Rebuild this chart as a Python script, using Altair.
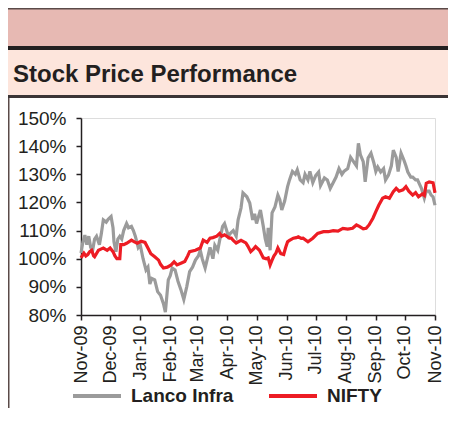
import altair as alt
import pandas as pd

# ---- data (day offset from 1-Nov-2009, index %) ----
lanco_days = [0, 2, 4, 6, 8, 10, 12, 14, 16, 19, 21, 23, 26, 28, 31, 33, 34, 36, 38, 40,
              42, 44, 47, 49, 52, 54, 56, 59, 61, 64, 67, 69, 71, 73, 76, 79, 82, 85, 87, 90,
              92, 94, 97, 100, 103, 106, 109, 112, 115, 118, 121, 123, 125, 128, 131, 133, 136, 138, 141, 143,
              146, 148, 152, 154, 157, 160, 162, 165, 167, 171, 174, 177, 179, 181, 185, 188, 190, 192, 193, 195,
              197, 200, 203, 205, 207, 210, 213, 215, 218, 221, 223, 226, 229, 231, 234, 236, 239, 242, 245, 247,
              251, 254, 257, 260, 263, 266, 269, 271, 275, 278, 281, 284, 286, 288, 291, 293, 296, 299, 302, 304,
              306, 309, 312, 314, 317, 320, 322, 325, 327, 330, 333, 335, 337, 340, 342, 345, 347, 351, 354, 356,
              359, 361, 363, 365]
lanco_vals = [102, 106, 108.4, 105, 108, 104, 103, 107, 108, 105, 109, 113.8, 113, 114, 115, 111, 106, 102.5, 107, 108,
              107, 110, 112.5, 111, 111.5, 110, 108, 104, 105, 100, 96, 97, 91, 93, 92.5, 88.3, 87, 84, 81, 92.5,
              94, 96.7, 96, 92, 89, 85.5, 90, 95.4, 97, 99.5, 101, 103, 100, 96.7, 101, 104, 100, 104.8, 103, 106.6,
              111.5, 112.5, 108, 109, 110, 108, 113.8, 118, 123.4, 122, 119.8, 113.8, 116, 112.5, 117.3, 111.4, 107, 104.3, 111, 103,
              116.3, 118.4, 122.6, 121, 117.3, 120.5, 125.6, 128, 131, 130, 131.6, 128, 127, 130, 128, 131, 127, 129.5, 130.8, 126,
              128.7, 128, 125, 127, 129, 132, 130, 131, 132, 136, 134.5, 133, 141, 137, 134.5, 127.3, 135.8, 137.5, 134, 131,
              132.6, 130.8, 132, 128, 129.7, 133, 138.6, 136, 131, 137.5, 135, 133, 130.8, 129, 129, 128, 128, 125, 121.5, 124,
              124, 122.6, 122, 119]

nifty_days = [0, 3, 5, 7, 9, 11, 13, 14, 18, 21, 23, 27, 30, 33, 35, 37, 40, 41, 44, 47,
              52, 55, 58, 62, 66, 69, 72, 76, 80, 82, 85, 89, 93, 96, 99, 103, 107, 110, 112, 118,
              123, 126, 130, 133, 136, 140, 143, 145, 148, 153, 155, 157, 160, 165, 170, 172, 175, 178, 180, 184,
              188, 191, 193, 195, 197, 199, 201, 203, 206, 209, 211, 213, 215, 219, 222, 224, 227, 229, 234, 239,
              244, 250, 255, 260, 265, 270, 275, 280, 284, 287, 291, 294, 297, 301, 304, 307, 311, 314, 318, 322,
              325, 328, 332, 335, 338, 342, 345, 348, 352, 354, 356, 359, 363, 365]
nifty_vals = [100.3, 102, 101, 101.5, 102.5, 103, 101, 100.7, 103, 103.5, 103.8, 103, 103.8, 102.5, 101, 100, 100, 105, 105, 105.5,
              106.6, 106, 105.5, 106.2, 105.8, 103.8, 101.8, 100.7, 99.5, 98, 96.7, 97, 97.8, 98.9, 97.8, 98.4, 99, 101, 102.5, 103,
              103.8, 106.6, 105.8, 107.3, 107.5, 108, 109, 108, 108.5, 107.3, 107.3, 106.5, 105.6, 106.5, 105.6, 104.5, 102.5, 103.5, 104.3, 103,
              100.3, 100, 100.3, 97.8, 99.5, 101, 102, 103.8, 101.8, 101.5, 104, 106, 106.5, 107.3, 107.5, 107.8, 107.2, 107.3, 106, 107.3,
              109, 109.6, 109.6, 110, 109.8, 110.8, 110.5, 110.8, 112, 111.5, 110.6, 110.8, 112, 114.4, 116.7, 119, 121.5, 122, 121.5, 123.8,
              125, 124, 124.5, 125.6, 124, 122.6, 123.5, 122, 123, 122.5, 126.8, 127.3, 127, 123.4]

series_names = ["Lanco Infra", "NIFTY"]
series_colors = ["#9b9b9b", "#ed1c24"]
y_ticks = [80, 90, 100, 110, 120, 130, 140, 150]
month_ticks = [(2009, 11), (2009, 12), (2010, 1), (2010, 2), (2010, 3), (2010, 4), (2010, 5),
               (2010, 6), (2010, 7), (2010, 8), (2010, 9), (2010, 10), (2010, 11)]
title_text = "Stock Price Performance"

start = pd.Timestamp("2009-11-01")
def mk(days, vals, name):
    return pd.DataFrame({
        "date": [(start + pd.Timedelta(days=d)).strftime("%Y-%m-%d") for d in days],
        "value": vals,
        "series": name,
    })

df = pd.concat([mk(lanco_days, lanco_vals, series_names[0]),
                mk(nifty_days, nifty_vals, series_names[1])], ignore_index=True)

FONT = "Liberation Sans"
DARK = "#231f20"

lines = alt.Chart(df).mark_line(strokeWidth=3.2).encode(
    x=alt.X("date:T",
            scale=alt.Scale(type="utc",
                            domain=[alt.DateTime(year=2009, month=11, date=1, utc=True),
                                    alt.DateTime(year=2010, month=11, date=1, utc=True)]),
            axis=alt.Axis(values=[alt.DateTime(year=y, month=m, date=1, utc=True) for y, m in month_ticks],
                          labelExpr="utcFormat(datum.value, '%b-%y')", labelAngle=-90,
                          labelAlign="right", labelBaseline="middle",
                          title=None, grid=False, tickSize=5, labelPadding=5,
                          labelFontSize=18, labelColor=DARK, labelFont=FONT,
                          domainColor=DARK, tickColor=DARK, domainWidth=1.5, tickWidth=1.5)),
    y=alt.Y("value:Q",
            scale=alt.Scale(domain=[80, 150], nice=False, zero=False),
            axis=alt.Axis(values=y_ticks, labelExpr="datum.value + '%'",
                          title=None, grid=False, tickSize=5, labelPadding=10,
                          labelFontSize=19, labelColor=DARK, labelFont=FONT,
                          domainColor=DARK, tickColor=DARK, domainWidth=1.5, tickWidth=1.5)),
    color=alt.Color("series:N",
                    scale=alt.Scale(domain=series_names, range=series_colors),
                    legend=alt.Legend(title=None, orient="none", legendX=-10, legendY=252,
                                      direction="horizontal", symbolType="stroke",
                                      symbolSize=2304, symbolStrokeWidth=4,
                                      labelFontSize=19, labelFontWeight="bold",
                                      labelFont=FONT, labelColor=DARK,
                                      labelOffset=8, columnPadding=27, padding=0)),
)

one = pd.DataFrame({"k": [0]})
def band(x1, x2, y1, y2, color):
    return alt.Chart(one).mark_rect(color=color).encode(
        x=alt.value(x1), x2=alt.value(x2), y=alt.value(y1), y2=alt.value(y2))

decor = [
    band(-73, 367, -110, -72, "#e7b9b3"),
    band(-73, 367, -110, -108.5, "#5a4a48"),
    band(-73, 367, -72, -68, DARK),
    band(-73, 367, -68, -23, "#fde5dc"),
    band(-73, 367, -23, -20, "#3b3536"),
    band(-73, -71.5, -20, 290, "#5a4a48"),
]

title = alt.Chart(one).mark_text(text=title_text, align="left", baseline="alphabetic",
                                 fontSize=24, fontWeight="bold", font=FONT, color=DARK).encode(
    x=alt.value(-68), y=alt.value(-36))

chart = alt.layer(*decor, title, lines).properties(
    width=354, height=197,
    autosize=alt.AutoSizeParams(type="none"),
    padding={"left": 73, "top": 110, "right": 13, "bottom": 93},
).configure_view(stroke="transparent").configure(font=FONT)

chart.save("out.html", embed_options={"renderer": "svg", "actions": False})
